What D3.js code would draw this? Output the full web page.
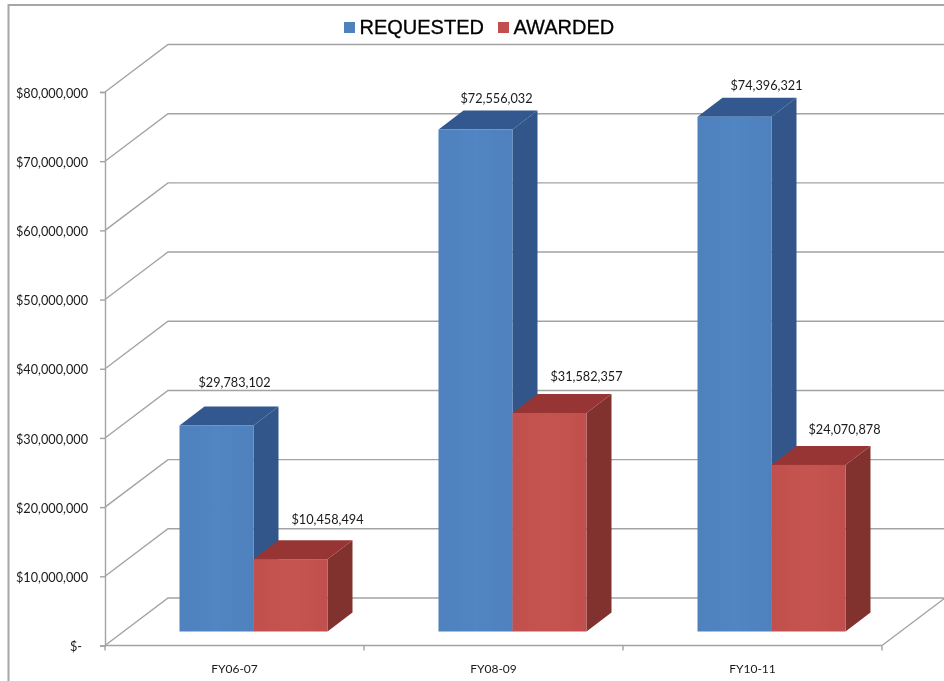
<!DOCTYPE html>
<html><head><meta charset="utf-8">
<script src="https://cdn.jsdelivr.net/npm/d3@7/dist/d3.min.js"></script>
<style>html,body{margin:0;padding:0;background:#fff}svg{display:block}</style>
</head><body><svg id="c" width="944" height="681"></svg>
<script>
const categories = ["FY06-07", "FY08-09", "FY10-11"];
const seriesNames = ["REQUESTED", "AWARDED"];
const requested = [29783102, 72556032, 74396321];
const awarded = [10458494, 31582357, 24070878];
const yTicks = [0, 10000000, 20000000, 30000000, 40000000, 50000000, 60000000, 70000000, 80000000];
const labelNudgeRequested = [[18, -43], [21, -31], [32, -31]];
const labelNudgeAwarded = [[37, -40], [37, -36], [36, -35]];

const root = d3.select("#c");
const grid = "#a3a3a3", font = "Lato, 'Open Sans', sans-serif";
const faceColors = {
  REQUESTED: {front: "#4f81bd", side: "#30568a", top: "#30598f", hi: "#5185c3"},
  AWARDED: {front: "#c0504d", side: "#82302f", top: "#973634", hi: "#c65350"}
};
const y = d3.scaleLinear().domain([0, 80000000]).range([645.5, 92]);
const x = d3.scaleBand().domain(categories).range([105, 882]);
const back = {dx: 63, dy: -47.5}, floorFront = {dx: 19, dy: -14}, barDepth = {dx: 25, dy: -19};
const barW = 74;

const defs = root.append("defs");
defs.append("filter").attr("id", "soft").attr("x", 0).attr("y", 0).attr("width", 1).attr("height", 1)
  .attr("filterUnits", "userSpaceOnUse").attr("x", 0).attr("y", 0).attr("width", 944).attr("height", 681)
  .append("feGaussianBlur").attr("stdDeviation", 0.35);
Object.entries(faceColors).forEach(([k, c]) => {
  const g = defs.append("linearGradient").attr("id", "g" + k);
  g.append("stop").attr("offset", 0).attr("stop-color", c.front);
  g.append("stop").attr("offset", .5).attr("stop-color", c.hi);
  g.append("stop").attr("offset", 1).attr("stop-color", c.front);
});
const svg = root.append("g").attr("filter", "url(#soft)");

// outer frame
svg.append("path").attr("d", "M8.5,681V5H944").attr("fill", "none").attr("stroke", "#a6a6a6").attr("stroke-width", 2);

// walls
const walls = svg.append("g").attr("fill", "none").attr("stroke", grid).attr("stroke-width", 1.4);
yTicks.forEach(t => {
  const p = d3.path();
  p.moveTo(105, y(t));
  p.lineTo(105 + back.dx, y(t) + back.dy);
  p.lineTo(944, y(t) + back.dy);
  walls.append("path").attr("d", p.toString());
});
const fl = d3.path();
fl.moveTo(882, y(0));
fl.lineTo(882 + back.dx, y(0) + back.dy);
walls.append("path").attr("d", fl.toString());

// axes
const yAxis = d3.axisLeft(y).tickValues(yTicks).tickSize(5).tickPadding(12)
  .tickFormat(d => d === 0 ? "$-" : d3.format("$,")(d));
const gy = svg.append("g").attr("transform", "translate(105,0)").call(yAxis);
const xAxis = d3.axisBottom(x).tickSize(0).tickPadding(19);
const gx = svg.append("g").attr("transform", "translate(0,645.5)").call(xAxis);
[gy, gx].forEach(g => {
  g.selectAll(".domain").attr("stroke", grid).attr("stroke-width", 1.4);
  g.selectAll("line").attr("stroke", grid).attr("stroke-width", 1.4);
  g.selectAll("text").attr("font-family", font).attr("fill", "#1a1a1a");
});
gy.selectAll("text").attr("font-size", 12.7).attr("transform", "translate(0,1)");
gx.selectAll("text").attr("font-size", 12);
gy.selectAll(".tick").filter(d => d === 0).select("text").attr("dx", -6);
gx.select(".domain").attr("d", "M105,0H882");
gx.selectAll("line.b").data(categories.concat("end")).enter().append("line").attr("class", "b")
  .attr("x1", (d, i) => i < 3 ? x(d) : x.range()[1]).attr("x2", (d, i) => i < 3 ? x(d) : x.range()[1])
  .attr("y1", 0).attr("y2", 5).attr("stroke", grid).attr("stroke-width", 1.4);

// bars
const barsG = svg.append("g");
const drawBar = (name, v, cat, order) => {
  const c = faceColors[name];
  const x0 = x(cat) + x.bandwidth() / 2 + floorFront.dx + (order === 0 ? -barW : 0);
  const x1 = x0 + barW;
  const yb = y(0) + floorFront.dy, yt = y(v) + floorFront.dy;
  const g = barsG.append("g");
  const d = barDepth;
  g.append("path").attr("fill", c.side).attr("d", `M${x1},${yt}L${x1 + d.dx},${yt + d.dy}V${yb + d.dy}L${x1},${yb}Z`);
  g.append("path").attr("fill", c.top).attr("d", `M${x0},${yt}L${x0 + d.dx},${yt + d.dy}H${x1 + d.dx}L${x1},${yt}Z`);
  g.append("rect").attr("x", x0).attr("y", yt).attr("width", barW).attr("height", yb - yt).attr("fill", `url(#g${name})`);
  return (x0 + x1) / 2;
};
const labels = [];
categories.forEach((cat, i) => {
  const cx0 = drawBar("REQUESTED", requested[i], cat, 0);
  labels.push([requested[i], cx0 + labelNudgeRequested[i][0], y(requested[i]) + floorFront.dy + labelNudgeRequested[i][1]]);
  const cx1 = drawBar("AWARDED", awarded[i], cat, 1);
  labels.push([awarded[i], cx1 + labelNudgeAwarded[i][0], y(awarded[i]) + floorFront.dy + labelNudgeAwarded[i][1]]);
});
svg.append("g").selectAll("text").data(labels).enter().append("text")
  .attr("x", d => d[1]).attr("y", d => d[2]).attr("dy", "0.35em").attr("text-anchor", "middle")
  .attr("font-family", font).attr("font-size", 12.7).attr("fill", "#1a1a1a")
  .text(d => d3.format("$,")(d[0]));

// legend
const legendX = [344, 498];
const leg = svg.append("g").selectAll("g").data(seriesNames).enter().append("g")
  .attr("transform", (d, i) => `translate(${legendX[i]},22)`);
leg.append("rect").attr("width", 11).attr("height", 11).attr("fill", d => faceColors[d].front);
leg.append("text").attr("x", 15.5).attr("y", 11.5)
  .attr("font-family", "'Liberation Sans', Arial, sans-serif").attr("font-size", 20).attr("fill", "#000")
  .attr("stroke", "#000").attr("stroke-width", 0.3).text(d => d);
</script></body></html>
